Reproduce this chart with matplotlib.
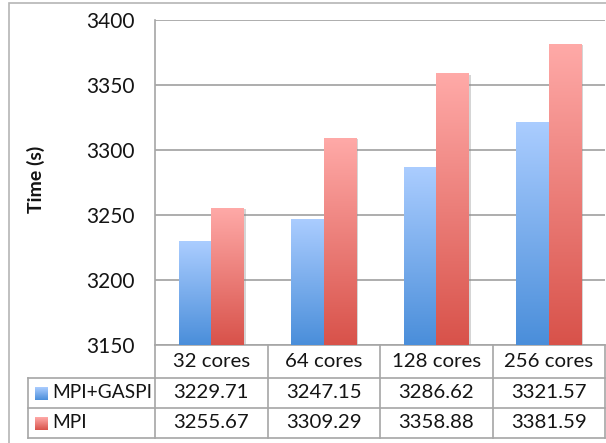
import numpy as np
import matplotlib
matplotlib.use('Agg')
import matplotlib.pyplot as plt
import matplotlib.patches as patches
import matplotlib.patheffects as pe
from matplotlib.colors import LinearSegmentedColormap

# data
categories = ['32 cores', '64 cores', '128 cores', '256 cores']
series_names = ['MPI+GASPI', 'MPI']
mpi_gaspi = [3229.71, 3247.15, 3286.62, 3321.57]
mpi = [3255.67, 3309.29, 3358.88, 3381.59]
y_ticks = [3150, 3200, 3250, 3300, 3350, 3400]

plt.rcParams['font.family'] = ['Lato', 'DejaVu Sans']

W, H = 606, 443
DPI = 100
FS = 14.7
TXT = '#141414'
fig = plt.figure(figsize=(W / DPI, H / DPI), dpi=DPI)

# plot area in pixels
PL, PR, PT, PB = 155, 605, 20, 345
ax = fig.add_axes([PL / W, 1 - PB / H, (PR - PL) / W, (PB - PT) / H])

# gradients: light at the top, dark at the bottom
cmaps = [
    LinearSegmentedColormap.from_list('blue', ['#4a8eda', '#abcdff']),
    LinearSegmentedColormap.from_list('red', ['#d8524a', '#ffaaa8']),
]

base = y_ticks[0]
x = np.arange(len(categories))
bw = 0.29
grad = np.linspace(0, 1, 256).reshape(-1, 1)
for i, vals in enumerate([mpi_gaspi, mpi]):
    offs = (i - 0.5) * bw
    bars = ax.bar(x + offs, np.array(vals) - base, bottom=base, width=bw,
                  color=cmaps[i](0.0), edgecolor='none', zorder=2)
    for b in bars:
        b.set_path_effects([pe.SimplePatchShadow(offset=(1.5, -1.0), shadow_rgbFace='#888888', alpha=0.35),
                            pe.Normal()])
        bx, by = b.get_x(), b.get_y()
        im = ax.imshow(grad, extent=[bx, bx + b.get_width(), by, by + b.get_height()],
                       origin='lower', aspect='auto', cmap=cmaps[i], zorder=3)
        im.set_clip_path(b)

ax.set_xlim(-0.5, len(categories) - 0.5)
ax.set_ylim(y_ticks[0], y_ticks[-1])
ax.set_yticks(y_ticks)
ax.set_xticks([])
ax.tick_params(axis='y', length=0, pad=15, labelsize=15, colors=TXT)
ax.yaxis.grid(True, color='#a0a0a0', linewidth=1.2, zorder=0)
ax.set_axisbelow(True)
for s in ['top', 'right']:
    ax.spines[s].set_visible(False)
for s in ['left', 'bottom']:
    ax.spines[s].set_color('#a6a6a6')
    ax.spines[s].set_linewidth(1.2)

# data table under the plot (axes fraction coordinates)
def fy(py):
    return (PB - py) / (PB - PT)

def fx(px):
    return (px - PL) / (PR - PL)

row_edges = [fy(345), fy(378), fy(408), fy(438)]
left = fx(28)
lc = '#a6a6a6'
lkw = dict(color=lc, linewidth=1.2, clip_on=False, transform=ax.transAxes)

# horizontal lines
ax.plot([0, 1], [row_edges[1]] * 2, **lkw)
for r in row_edges[2:]:
    ax.plot([left, 1], [r, r], **lkw)
ax.plot([left, 0], [row_edges[1]] * 2, **lkw)
# vertical lines
ax.plot([left, left], [row_edges[1], row_edges[3]], **lkw)
for k in range(len(categories) + 1):
    xf = k / len(categories)
    ax.plot([xf, xf], [row_edges[0], row_edges[3]], **lkw)

tkw = dict(transform=ax.transAxes, ha='center', va='center', fontsize=FS,
           color=TXT, clip_on=False)
for k, c in enumerate(categories):
    xc = (k + 0.5) / len(categories)
    ax.text(xc, (row_edges[0] + row_edges[1]) / 2, c, **tkw)
    ax.text(xc, (row_edges[1] + row_edges[2]) / 2, f'{mpi_gaspi[k]:.2f}', **tkw)
    ax.text(xc, (row_edges[2] + row_edges[3]) / 2, f'{mpi[k]:.2f}', **tkw)

# legend keys in the row labels
for i, name in enumerate(series_names):
    yc = (row_edges[i + 1] + row_edges[i + 2]) / 2
    py = PB - yc * (PB - PT)
    key = fig.add_axes([35 / W, 1 - (py + 6.5) / H, 13 / W, 13 / H])
    key.imshow(grad, origin='lower', aspect='auto', cmap=cmaps[i], extent=[0, 1, 0, 1])
    key.set_axis_off()
    ax.text(fx(52), yc, name, transform=ax.transAxes, ha='left', va='center',
            fontsize=13.8, color=TXT, clip_on=False)

fig.text(36 / W, 1 - 179 / H, 'Time (s)', rotation=90, ha='center', va='center',
         fontsize=14, fontweight='bold', color=TXT)

# chart frame
fig.patches.append(patches.Rectangle((9 / W, -0.05), 1.05, 1 - 3 / H + 0.05,
                                     transform=fig.transFigure, fill=False,
                                     edgecolor='#b5b5b5', linewidth=1.2))

fig.savefig('out.png', dpi=DPI)
